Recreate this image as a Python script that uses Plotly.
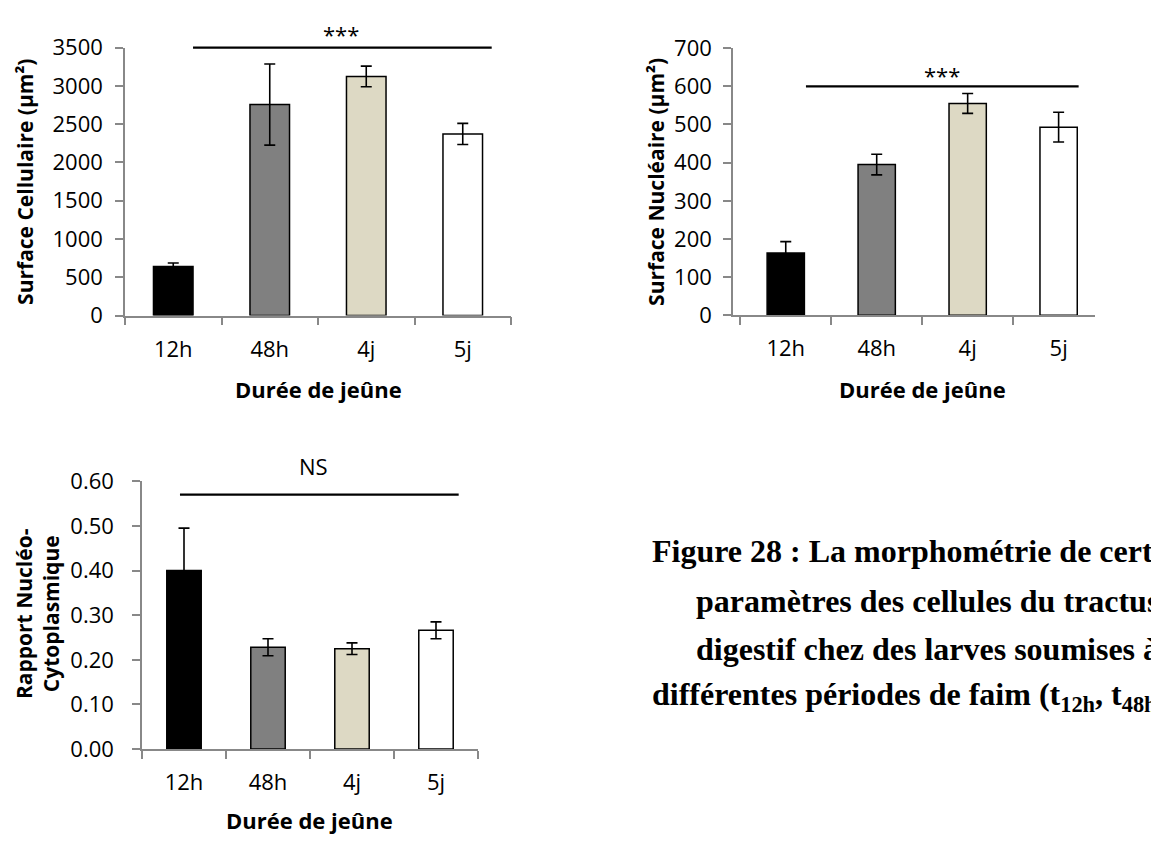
import plotly.graph_objects as go

W, H = 1151, 847

categories = ["12h", "48h", "4j", "5j"]
bar_colors = ["#000000", "#808080", "#DDD9C4", "#FFFFFF"]

cell_area = [640, 2755, 3122, 2371]
cell_err = [45, 530, 135, 138]

nuc_area = [163, 395, 555, 493]
nuc_err = [30, 27, 26, 39]

ratio = [0.40, 0.228, 0.225, 0.266]
ratio_err = [0.095, 0.019, 0.013, 0.019]

y_titles = ["Surface Cellulaire (µm²)", "Surface Nucléaire (µm²)", "Rapport Nucléo-<br>Cytoplasmique"]
x_title = "Durée de jeûne"
sig_labels = ["***", "***", "NS"]
sig_levels = [3500, 600, 0.57]
sig_spans = [[0.205, 3.30], [0.222, 3.22], [-0.048, 3.27]]
sig_label_x = [1.74, 1.72, 1.536]
sig_label_levels = [3680, 630, 0.634]

caption_lines = [
    "Figure 28 : La morphométrie de certains",
    "paramètres des cellules du tractus",
    "digestif chez des larves soumises à",
    "différentes périodes de faim (t<sub>12h</sub>, t<sub>48h</sub>, t<sub>4j</sub> et t<sub>5j</sub>)",
]

def px_x(p):
    return p / W

def px_y(p):
    return 1 - p / H

panels = [
    dict(vals=cell_area, err=cell_err, xdom=[px_x(125), px_x(511)], ydom=[px_y(310.5), px_y(32.7)],
         xr=[-0.5, 3.5], yr=[0, 3500], dtick=500, fmt="d", standoff=8),
    dict(vals=nuc_area, err=nuc_err, xdom=[px_x(733), px_x(1095)], ydom=[px_y(310.3), px_y(33.3)],
         xr=[-0.58, 3.4], yr=[0, 700], dtick=100, fmt="d", standoff=7),
    dict(vals=ratio, err=ratio_err, xdom=[px_x(142), px_x(478)], ydom=[px_y(760), px_y(482.3)],
         xr=[-0.5, 3.5], yr=[0, 0.6], dtick=0.1, fmt=".2f", standoff=14),
]

AX_COL = "#888888"
TICK_FONT = dict(family="Open Sans", size=22, color="#000000")
Y_TITLE_FONT = dict(family="Open Sans", size=21, color="#000000")
X_TITLE_FONT = dict(family="Open Sans", size=22, color="#000000")

fig = go.Figure()
layout = dict(width=W, height=H, margin=dict(l=0, r=0, t=0, b=0),
              paper_bgcolor="white", plot_bgcolor="white", showlegend=False,
              shapes=[], annotations=[])

def to_paper(v, rng, dom):
    return dom[0] + (v - rng[0]) / (rng[1] - rng[0]) * (dom[1] - dom[0])

for i, p in enumerate(panels):
    n = "" if i == 0 else str(i + 1)
    fig.add_trace(go.Bar(
        x=categories, y=p["vals"], xaxis="x" + n, yaxis="y" + n,
        width=0.41,
        marker=dict(color=bar_colors, line=dict(color="#000000", width=1.5)),
        error_y=dict(type="data", array=p["err"], visible=True, color="#000000",
                     thickness=1.6, width=5.5),
    ))
    layout["xaxis" + n] = dict(
        domain=p["xdom"], anchor="y" + n, type="category", range=p["xr"],
        showline=True, linecolor=AX_COL, linewidth=1.5,
        ticks="outside", tickson="boundaries", ticklen=8, tickcolor=AX_COL, tickwidth=1.5,
        tickfont=TICK_FONT, showgrid=False, zeroline=False, ticklabelstandoff=13,
        fixedrange=True,
    )
    layout["yaxis" + n] = dict(
        domain=p["ydom"], anchor="x" + n, range=p["yr"], dtick=p["dtick"], tick0=0,
        tickformat=p["fmt"],
        showline=True, linecolor=AX_COL, linewidth=1.5,
        ticks="outside", ticklen=8, tickcolor=AX_COL, tickwidth=1.5,
        tickfont=TICK_FONT, showgrid=False, zeroline=False,
        ticklabelstandoff=p["standoff"], fixedrange=True,
    )
    ly = to_paper(sig_levels[i], p["yr"], p["ydom"])
    layout["shapes"].append(dict(type="line", xref="x" + n, yref="paper",
                                 x0=sig_spans[i][0], x1=sig_spans[i][1], y0=ly, y1=ly,
                                 line=dict(color="#000000", width=2.2)))
    layout["annotations"].append(dict(
        text=sig_labels[i], xref="x" + n, yref="paper", x=sig_label_x[i],
        y=to_paper(sig_label_levels[i], p["yr"], p["ydom"]),
        showarrow=False, xanchor="center", yanchor="middle",
        font=dict(family="Open Sans", size=22, color="#000000")))

title_pos = [
    dict(yx=25, yy=172, xx=318, xy=387),
    dict(yx=656, yy=172, xx=922, xy=387),
    dict(yx=37, yy=620, xx=309, xy=834),
]
for i, t in enumerate(title_pos):
    layout["annotations"].append(dict(
        text="<b>" + y_titles[i] + "</b>", xref="paper", yref="paper",
        x=px_x(t["yx"]), y=px_y(t["yy"]), textangle=-90, showarrow=False,
        xanchor="center", yanchor="middle", font=Y_TITLE_FONT))
    layout["annotations"].append(dict(
        text="<b>" + x_title + "</b>", xref="paper", yref="paper",
        x=px_x(t["xx"]), y=px_y(t["xy"]), showarrow=False,
        xanchor="center", yanchor="middle", font=X_TITLE_FONT))

cap_x = [650, 694, 694, 650]
cap_y = [555, 606, 656, 706]
for i, line in enumerate(caption_lines):
    layout["annotations"].append(dict(
        text="<b>" + line + "</b>", xref="paper", yref="paper",
        x=px_x(cap_x[i]), y=px_y(cap_y[i]), showarrow=False,
        xanchor="left", yanchor="middle",
        font=dict(family="Liberation Serif", size=32, color="#000000")))

fig.update_layout(**layout)
fig.write_html("out.html", config={"displayModeBar": False},
               post_script="document.body.style.margin='0';document.body.style.overflow='hidden';")
